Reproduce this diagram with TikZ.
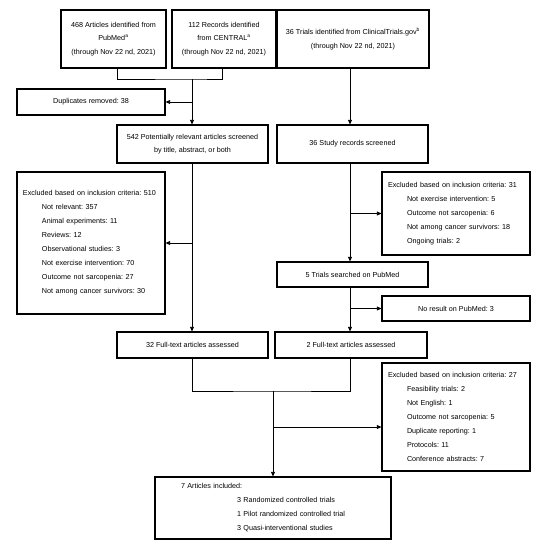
\documentclass[tikz,border=0pt]{standalone}
\usepackage{fontspec}
\setmainfont{Liberation Sans}
\usetikzlibrary{arrows.meta}
\frenchspacing
\begin{document}
\begin{tikzpicture}[x=1pt,y=-1pt,
 box/.style={draw, line width=1.2pt, align=center, inner sep=0pt, font=\fontsize{7.2}{13.5}\selectfont},
 lbox/.style={draw, line width=1.2pt, align=left, inner xsep=6pt, inner ysep=0pt, text width=136pt, font=\fontsize{7.2}{14}\selectfont},
 conn/.style={line width=0.8pt},
 arr/.style={conn, -{Triangle[length=4.5pt,width=4pt]}}]
\useasboundingbox (0,0) rectangle (540,550);
\node[box, minimum width=105pt, minimum height=58pt] (pub) at (113.5,39) {468 Articles identified from\\PubMed\textsuperscript{a}\\(through Nov 22 nd, 2021)};
\node[box, minimum width=104pt, minimum height=58pt] (cen) at (224,39) {112 Records identified\\from CENTRAL\textsuperscript{a}\\(through Nov 22 nd, 2021)};
\node[box, minimum width=152pt, minimum height=58pt] (ctg) at (353,39) {36 Trials identified from ClinicalTrials.gov\textsuperscript{b}\\(through Nov 22 nd, 2021)};
\node[box, minimum width=148pt, minimum height=26pt] (dup) at (91,102) {Duplicates removed: 38};
\node[box, minimum width=151pt, minimum height=38pt] (s542) at (192.5,144) {542 Potentially relevant articles screened\\by title, abstract, or both};
\node[box, minimum width=151pt, minimum height=38pt] (s36) at (352.5,144) {36 Study records screened};
\node[lbox, minimum height=142pt] (exL) at (91,243) {Excluded based on inclusion criteria: 510\\
\hspace*{19pt}Not relevant: 357\\
\hspace*{19pt}Animal experiments: 11\\
\hspace*{19pt}Reviews: 12\\
\hspace*{19pt}Observational studies: 3\\
\hspace*{19pt}Not exercise intervention: 70\\
\hspace*{19pt}Outcome not sarcopenia: 27\\
\hspace*{19pt}Not among cancer survivors: 30};
\node[lbox, minimum height=83pt] (exR1) at (456,213.5) {Excluded based on inclusion criteria: 31\\
\hspace*{19pt}Not exercise intervention: 5\\
\hspace*{19pt}Outcome not sarcopenia: 6\\
\hspace*{19pt}Not among cancer survivors: 18\\
\hspace*{19pt}Ongoing trials: 2};
\node[box, minimum width=151pt, minimum height=25pt] (t5) at (352.5,274.5) {5 Trials searched on PubMed};
\node[box, minimum width=148pt, minimum height=25pt] (nores) at (456,308.5) {No result on PubMed: 3};
\node[box, minimum width=151pt, minimum height=26pt] (f32) at (192.5,345) {32 Full-text articles assessed};
\node[box, minimum width=152pt, minimum height=26pt] (f2) at (351,345) {2 Full-text articles assessed};
\node[lbox, minimum height=108pt] (exR2) at (456,417) {Excluded based on inclusion criteria: 27\\
\hspace*{19pt}Feasibility trials: 2\\
\hspace*{19pt}Not English: 1\\
\hspace*{19pt}Outcome not sarcopenia: 5\\
\hspace*{19pt}Duplicate reporting: 1\\
\hspace*{19pt}Protocols: 11\\
\hspace*{19pt}Conference abstracts: 7};
\node[lbox, inner xsep=26pt, text width=184pt, minimum height=62pt] (fin) at (273,508) {7 Articles included:\\
\hspace*{56pt}3 Randomized controlled trials\\
\hspace*{56pt}1 Pilot randomized controlled trial\\
\hspace*{56pt}3 Quasi-interventional studies};
\coordinate (L) at (192,0);
\coordinate (R) at (350,0);
\coordinate (j1) at (192,79);
\coordinate (j2) at (273,391);
\draw[conn] ([xshift=3.5pt]pub.south) |- (j1) -| ([xshift=-2pt]cen.south);
\draw[arr] (j1) -- (j1 |- s542.north);
\draw[arr] (L |- dup.east) -- (dup.east);
\draw[arr] (L |- s542.south) -- (L |- f32.north);
\draw[arr] (L |- exL.east) -- (exL.east);
\draw[arr] (R |- ctg.south) -- (R |- s36.north);
\draw[arr] (R |- s36.south) -- (R |- t5.north);
\draw[arr] (R |- exR1.west) -- (exR1.west);
\draw[arr] (R |- t5.south) -- (R |- f2.north);
\draw[arr] (R |- nores.west) -- (nores.west);
\draw[conn] (L |- f32.south) |- (j2) -| (R |- f2.south);
\draw[arr] (j2) -- (j2 |- fin.north);
\draw[arr] ([yshift=-10pt]j2 |- exR2.west) -- ([yshift=-10pt]exR2.west);
\end{tikzpicture}
\end{document}
